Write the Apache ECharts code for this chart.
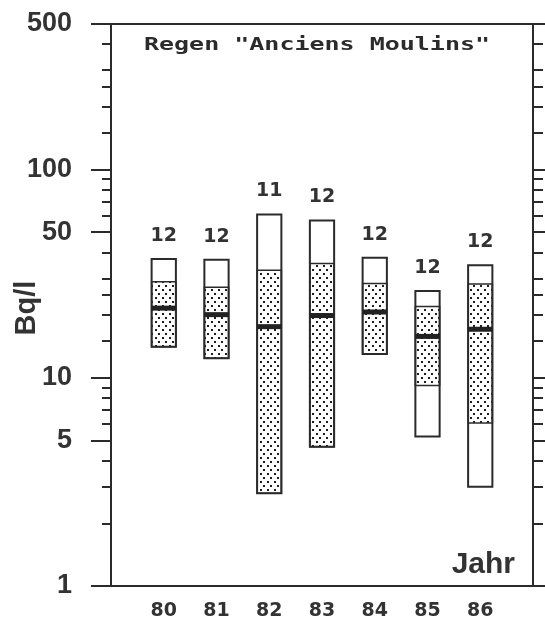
<!DOCTYPE html>
<html>
<head>
<meta charset="utf-8">
<script src="https://cdn.jsdelivr.net/npm/echarts@6/dist/echarts.min.js"></script>
<style>
html,body{margin:0;padding:0;background:#fff;}
#c{width:545px;height:624px;}
</style>
</head>
<body>
<div id="c"></div>
<script>
// ---- data ----
const years   = [80, 81, 82, 83, 84, 85, 86];
const minV    = [14.1, 12.4, 2.79, 4.67, 13.0, 5.22, 3.0];
const lowV    = [14.1, 12.4, 2.79, 4.67, 13.0, 9.18, 6.06];
const medV    = [21.6, 20.1, 17.6, 19.9, 20.7, 15.8, 17.1];
const highV   = [28.9, 27.2, 32.8, 35.4, 28.4, 22.0, 28.2];
const maxV    = [37.2, 36.9, 60.8, 57.0, 37.7, 26.1, 34.7];
const counts  = [12, 12, 11, 12, 12, 12, 12];
const majorTicks = [1, 5, 10, 50, 100, 500];
const minorTicks = [2, 3, 4, 6, 7, 8, 9, 15, 20, 25, 30, 40, 60, 70, 80, 90, 150, 200, 250, 300, 400];
const titleText = 'Regen "Anciens Moulins"';
const yName = 'Bq/l';
const xName = 'Jahr';

const INK = '#2b2b2b';
const numFont = '"Liberation Sans Narrow", "Liberation Sans", sans-serif';

// dotted pattern
const pat = document.createElement('canvas');
pat.width = 7; pat.height = 8;
(function () {
  const g = pat.getContext('2d');
  g.fillStyle = '#ffffff'; g.fillRect(0, 0, 7, 8);
  g.fillStyle = '#1e1e1e';
  g.fillRect(1, 1, 2, 2);
  g.fillRect(4, 5, 2, 2);
})();

const data = years.map((y, i) => [y, minV[i], lowV[i], medV[i], highV[i], maxV[i], counts[i]]);

function logAxis(pos, ticks, len, line, labels) {
  return {
    type: 'log', logBase: 10, min: 1, max: 500, position: pos,
    axisLine: { show: line, lineStyle: { color: INK, width: 2 } },
    axisTick: { show: true, customValues: ticks, length: len, lineStyle: { color: INK, width: 2 } },
    axisLabel: labels ? {
      show: true, customValues: majorTicks, margin: 39,
      fontFamily: numFont, fontWeight: 'bold', fontSize: 27, color: '#333'
    } : { show: false },
    splitLine: { show: false },
    minorTick: { show: false }
  };
}

const chart = echarts.init(document.getElementById('c'), null, { renderer: 'canvas' });
chart.setOption({
  animation: false,
  backgroundColor: '#fff',
  grid: { left: 111, right: 12, top: 24, bottom: 38, containLabel: false },
  xAxis: [
    {
      type: 'value', min: 79, max: 87, interval: 1, position: 'bottom',
      axisLine: { show: true, lineStyle: { color: INK, width: 2 } },
      axisTick: { show: false },
      splitLine: { show: false },
      axisLabel: {
        customValues: years, margin: 16,
        fontFamily: '"DejaVu Sans", sans-serif', fontWeight: 'bold', fontSize: 19, color: '#333'
      }
    },
    {
      type: 'value', min: 79, max: 87, position: 'top',
      axisLine: { show: true, lineStyle: { color: INK, width: 2 } },
      axisTick: { show: false }, axisLabel: { show: false }, splitLine: { show: false }
    }
  ],
  yAxis: [
    logAxis('left', majorTicks, 20, true, true),
    logAxis('left', minorTicks, 9, false, false),
    logAxis('right', majorTicks, 20, true, false),
    logAxis('right', minorTicks, 10, false, false)
  ],
  graphic: [
    {
      type: 'text', x: 317, y: 45.5, scaleX: 1.47, scaleY: 1,
      style: { text: titleText, font: 'bold 17px "DejaVu Sans Mono", monospace', fill: '#2b2b2b', align: 'center', verticalAlign: 'middle' }
    },
    {
      type: 'text', x: 27, y: 308, rotation: Math.PI / 2,
      style: { text: yName, font: 'bold 29px ' + numFont, fill: '#333', align: 'center', verticalAlign: 'middle' }
    },
    {
      type: 'text', x: 515, y: 580,
      style: { text: xName, font: 'bold 30px ' + numFont, fill: '#333', align: 'right', verticalAlign: 'bottom' }
    }
  ],
  series: [{
    type: 'custom',
    xAxisIndex: 0, yAxisIndex: 0,
    clip: false,
    data: data,
    renderItem: function (params, api) {
      const x = api.value(0);
      const pMin = api.coord([x, api.value(1)]);
      const pLow = api.coord([x, api.value(2)]);
      const pMed = api.coord([x, api.value(3)]);
      const pHigh = api.coord([x, api.value(4)]);
      const pMax = api.coord([x, api.value(5)]);
      const left = api.coord([x - 0.23, api.value(3)])[0];
      const right = api.coord([x + 0.23, api.value(3)])[0];
      const w = right - left;
      return {
        type: 'group',
        children: [
          { type: 'rect', shape: { x: left, y: pMax[1], width: w, height: pMin[1] - pMax[1] },
            style: { fill: '#fff', stroke: null } },
          { type: 'rect', shape: { x: left, y: pHigh[1], width: w, height: pLow[1] - pHigh[1] },
            style: { fill: { image: pat, repeat: 'repeat' }, stroke: INK, lineWidth: 1.5 } },
          { type: 'rect', shape: { x: left, y: pMax[1], width: w, height: pMin[1] - pMax[1] },
            style: { fill: null, stroke: INK, lineWidth: 2 } },
          { type: 'rect', shape: { x: left, y: pMed[1] - 2.5, width: w, height: 5 },
            style: { fill: '#222' } },
          { type: 'text', x: (left + right) / 2, y: pMax[1] - 23,
            style: { text: String(api.value(6)), font: 'bold 19px "DejaVu Sans", sans-serif', fill: '#333', align: 'center', verticalAlign: 'middle' } }
        ]
      };
    }
  }]
});
</script>
</body>
</html>
